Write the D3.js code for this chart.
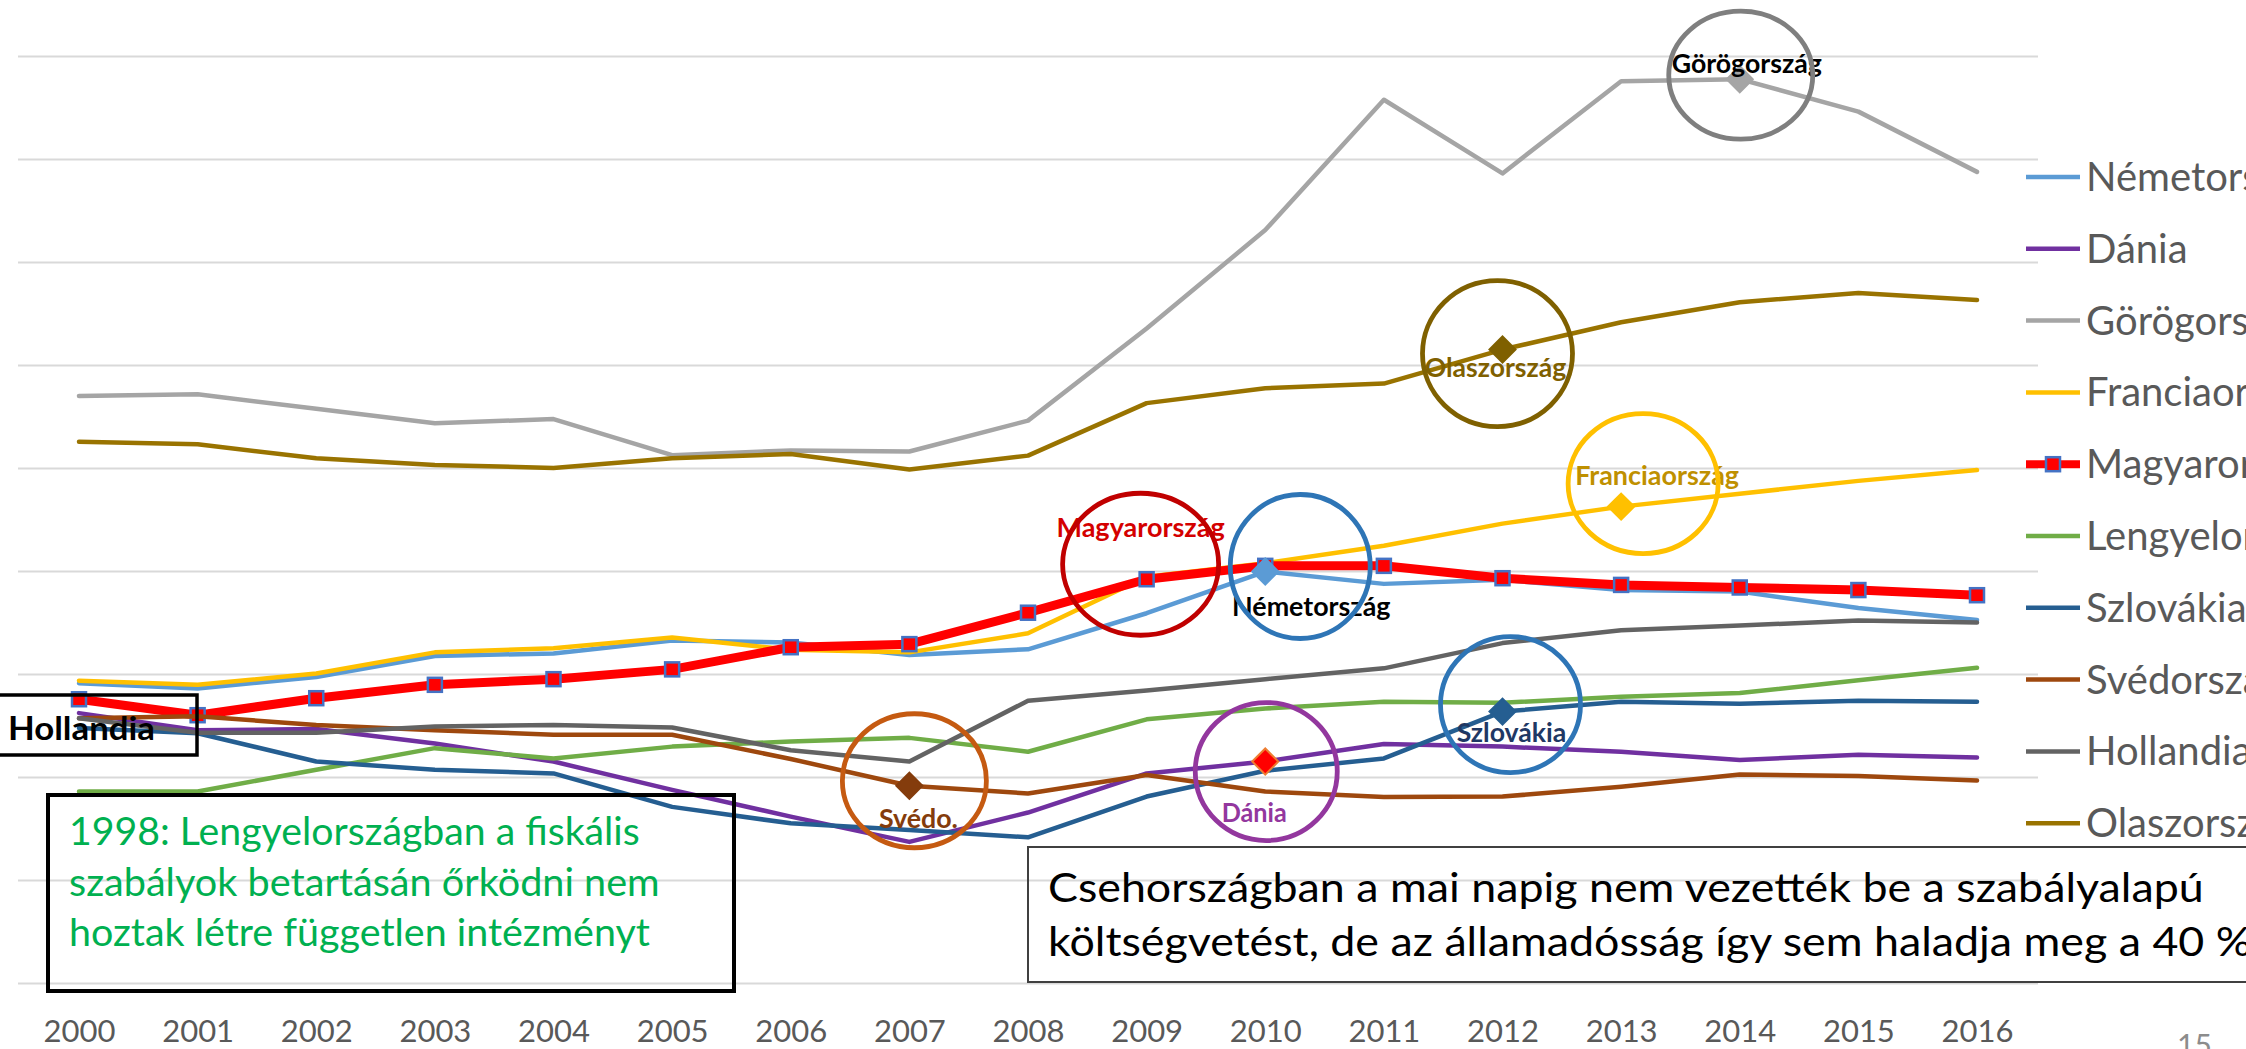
<!DOCTYPE html>
<html lang="hu">
<head>
<meta charset="UTF-8">
<title>Államadósság 2000-2016</title>
<style>
  html, body { margin: 0; padding: 0; background: #fff; }
  svg { display: block; font-family: Lato, "Open Sans", sans-serif; }
  .grid line { stroke: #d9d9d9; stroke-width: 2px; }
  .grid .domain, .xaxis .domain { display: none; }
  .xaxis text { fill: #595959; font-size: 31px; font-family: Lato, sans-serif; }
  .series { fill: none; stroke-linejoin: round; stroke-linecap: round; }
  .legend text { font-size: 40px; fill: #595959; }
</style>
</head>
<body>
<svg id="chart" width="2246" height="1049"></svg>
<script src="https://d3js.org/d3.v7.min.js"></script>
<script>
// years on the x axis
const years = d3.range(2000, 2017);

// debt values, one array per country
const nemetorszag   = [58.2, 57.2, 59.4, 63.5, 64.0, 66.5, 66.1, 63.7, 64.8, 71.8, 79.9, 77.5, 78.3, 76.3, 76.0, 72.8, 70.5];
const dania         = [52.4, 49.1, 49.3, 46.5, 43.0, 37.5, 32.3, 27.4, 33.1, 40.7, 43.0, 46.4, 45.9, 44.9, 43.3, 44.3, 43.8];
const gorogorszag   = [114.0, 114.3, 111.5, 108.7, 109.5, 102.5, 103.4, 103.2, 109.2, 127.1, 146.2, 171.5, 157.2, 175.1, 175.5, 169.2, 157.5];
const franciaorszag = [58.7, 57.9, 60.1, 64.2, 65.0, 67.1, 64.7, 64.2, 67.9, 78.9, 81.5, 84.9, 89.2, 92.5, 95.0, 97.5, 99.6];
const magyarorszag  = [55.1, 52.0, 55.3, 57.9, 59.0, 60.9, 65.2, 65.8, 71.9, 78.4, 81.0, 81.0, 78.6, 77.3, 76.8, 76.3, 75.3];
const lengyelorszag = [37.2, 37.2, 41.4, 45.6, 43.6, 45.9, 46.9, 47.6, 44.9, 51.2, 53.3, 54.6, 54.4, 55.6, 56.3, 58.8, 61.2];
const szlovakia     = [49.5, 48.5, 43.0, 41.4, 40.7, 34.2, 31.0, 29.7, 28.3, 36.2, 41.2, 43.6, 52.7, 54.6, 54.2, 54.8, 54.6];
const svedorszag    = [51.4, 51.8, 50.1, 49.1, 48.2, 48.2, 43.5, 38.3, 36.8, 40.4, 37.2, 36.1, 36.2, 38.1, 40.5, 40.2, 39.3];
const hollandia     = [51.4, 48.6, 48.6, 49.8, 50.1, 49.6, 45.2, 43.0, 54.8, 56.8, 59.0, 61.1, 66.0, 68.5, 69.4, 70.4, 70.0];
const olaszorszag   = [105.1, 104.6, 101.9, 100.6, 100.0, 101.9, 102.7, 99.7, 102.4, 112.6, 115.5, 116.4, 123.0, 128.3, 132.2, 134.0, 132.6];

// gridline values (no labels shown on the y axis)
const gridValues = d3.range(0, 181, 20);

const series = [
  { name: "Németország",   values: nemetorszag,   color: "#5b9bd5" },
  { name: "Dánia",         values: dania,         color: "#7030a0" },
  { name: "Görögország",   values: gorogorszag,   color: "#a5a5a5" },
  { name: "Franciaország", values: franciaorszag, color: "#ffc000" },
  { name: "Magyarország",  values: magyarorszag,  color: "#ff0000", hu: true },
  { name: "Lengyelország", values: lengyelorszag, color: "#70ad47" },
  { name: "Szlovákia",     values: szlovakia,     color: "#255e91" },
  { name: "Svédország",    values: svedorszag,    color: "#9e480e" },
  { name: "Hollandia",     values: hollandia,     color: "#636363" },
  { name: "Olaszország",   values: olaszorszag,   color: "#997300" }
];

// circled points with their labels
const callouts = [
  { s: "Görögország",   year: 2014, label: "Görögország",   ring: "#7f7f7f", text: "#000000", mark: "#a5a5a5", rx: 72, ry: 64, dx: 1,  dy: -4, lx: 7,   ly: -6, w: 148 },
  { s: "Olaszország",   year: 2012, label: "Olaszország",   ring: "#7f6000", text: "#7f6000", mark: "#7f6000", rx: 75, ry: 73, dx: -5, dy: 4,  lx: -7,  ly: 27, w: 139 },
  { s: "Franciaország", year: 2013, label: "Franciaország", ring: "#ffc000", text: "#bf9000", mark: "#ffc000", rx: 75, ry: 70, dx: 22, dy: -23, lx: 36, ly: -22, w: 161 },
  { s: "Magyarország",  year: 2009, label: "Magyarország",  ring: "#c00000", text: "#d40000", mark: null,      rx: 78, ry: 71, dx: -6, dy: -15, lx: -6, ly: -42, w: 165 },
  { s: "Németország",   year: 2010, label: "Németország",   ring: "#2e75b6", text: "#000000", mark: "#5b9bd5", rx: 70, ry: 72, dx: 35, dy: -5, lx: 46,  ly: 44, w: 156 },
  { s: "Svédország",    year: 2007, label: "Svédo.",        ring: "#c55a11", text: "#843c0c", mark: "#843c0c", rx: 72, ry: 67, dx: 5,  dy: -5, lx: 9,   ly: 42, w: 78 },
  { s: "Dánia",         year: 2010, label: "Dánia",         ring: "#93379e", text: "#93379e", mark: "#ff0000", edge: "#ed7d31", rx: 71, ry: 69, dx: 1, dy: 10, lx: -11, ly: 60, w: 64 },
  { s: "Szlovákia",     year: 2012, label: "Szlovákia",     ring: "#2e75b6", text: "#1f3864", mark: "#255e91", rx: 70, ry: 68, dx: 8,  dy: -7, lx: 9,   ly: 30, w: 107 }
];

const svg = d3.select("#chart");

const x = d3.scalePoint().domain(years).range([79, 1977]);
const y = d3.scaleLinear().domain([0, 180]).range([983, 56]);

// gridlines
svg.append("g")
  .attr("class", "grid")
  .attr("transform", "translate(18,0)")
  .call(d3.axisLeft(y).tickValues(gridValues).tickSize(-2020).tickFormat(""));

// year labels
svg.append("g")
  .attr("class", "xaxis")
  .attr("transform", "translate(0,983)")
  .call(d3.axisBottom(x).tickSize(0).tickPadding(37).tickFormat(d3.format("d")));

// series lines
const line = d3.line().x((d, i) => x(years[i])).y(d => y(d));

series.forEach(s => {
  svg.append("path")
    .datum(s.values)
    .attr("class", "series")
    .attr("d", line)
    .attr("stroke", s.color)
    .attr("stroke-width", s.hu ? 9 : 4.5);

  if (s.hu) {
    svg.append("g").selectAll("rect")
      .data(s.values)
      .join("rect")
      .attr("x", (d, i) => x(years[i]) - 7)
      .attr("y", d => y(d) - 7)
      .attr("width", 14)
      .attr("height", 14)
      .attr("fill", "#ff0000")
      .attr("stroke", "#4472c4")
      .attr("stroke-width", 2.5);
  }
});

const byName = new Map(series.map(s => [s.name, s]));
const diamond = d3.symbol().type(d3.symbolSquare).size(340);

// fits a text line to the width it has in the picture
function fitText(parent, str, px, py, size, width, anchor) {
  const g = parent.append("g").attr("transform", `translate(${px},${py})`);
  const t = g.append("text")
    .attr("font-size", size)
    .attr("text-anchor", anchor)
    .text(str);
  const w = t.node().getComputedTextLength();
  t.attr("transform", `scale(${width / w},1)`);
  return t;
}

// highlighted points, labels and rings
callouts.forEach(c => {
  const s = byName.get(c.s);
  const i = years.indexOf(c.year);
  const px = x(c.year), py = y(s.values[i]);

  if (c.mark) {
    svg.append("path")
      .attr("d", diamond())
      .attr("transform", `translate(${px},${py}) rotate(45)`)
      .attr("fill", c.mark)
      .attr("stroke", c.edge || c.mark)
      .attr("stroke-width", 2);
  }

  fitText(svg, c.label, px + c.lx, py + c.ly, 27, c.w, "middle")
    .attr("font-weight", "bold")
    .attr("fill", c.text);

  svg.append("ellipse")
    .attr("cx", px + c.dx)
    .attr("cy", py + c.dy)
    .attr("rx", c.rx)
    .attr("ry", c.ry)
    .attr("fill", "none")
    .attr("stroke", c.ring)
    .attr("stroke-width", 4.8);
});

// legend (runs off the right edge, as on the slide)
const legend = svg.append("g").attr("class", "legend");
series.forEach((s, i) => {
  const ly = 177 + i * 71.8;
  legend.append("line")
    .attr("x1", 2026).attr("x2", 2080)
    .attr("y1", ly).attr("y2", ly)
    .attr("stroke", s.color)
    .attr("stroke-width", s.hu ? 8 : 4.5);
  if (s.hu) {
    legend.append("rect")
      .attr("x", 2046).attr("y", ly - 7)
      .attr("width", 14).attr("height", 14)
      .attr("fill", "#ff0000")
      .attr("stroke", "#4472c4")
      .attr("stroke-width", 2.5);
  }
  legend.append("text")
    .attr("x", 2086)
    .attr("y", ly + 14)
    .attr("fill", s.hu ? "#ff0000" : "#595959")
    .text(s.name);
});

// "Hollandia" box at the left edge
svg.append("rect")
  .attr("x", -5).attr("y", 695).attr("width", 202).attr("height", 60)
  .attr("fill", "none").attr("stroke", "#000").attr("stroke-width", 3.5);
fitText(svg, "Hollandia", 8, 740, 33, 144, "start").attr("font-weight", "bold");

// Polish note
svg.append("rect")
  .attr("x", 48).attr("y", 795).attr("width", 686).attr("height", 196)
  .attr("fill", "none").attr("stroke", "#000").attr("stroke-width", 4);
const plLines = [
  ["1998: Lengyelországban a fiskális", 571],
  ["szabályok betartásán őrködni nem", 591],
  ["hoztak létre független intézményt", 581]
];
plLines.forEach((l, i) => {
  fitText(svg, l[0], 69, 845 + i * 50.5, 39, l[1], "start").attr("fill", "#00b050");
});

// Czech note
svg.append("rect")
  .attr("x", 1028).attr("y", 847).attr("width", 1240).attr("height", 135)
  .attr("fill", "none").attr("stroke", "#404040").attr("stroke-width", 2);
const cz1 = fitText(svg, "Csehországban a mai napig nem vezették be a szabályalapú", 1048, 902, 40, 1156, "start");
const czScale = 1156 / cz1.node().getComputedTextLength();
svg.append("text")
  .attr("font-size", 40)
  .attr("transform", `translate(1048,956) scale(${czScale},1)`)
  .text("költségvetést, de az államadósság így sem haladja meg a 40 %");

// slide number
svg.append("text")
  .attr("x", 2177).attr("y", 1056)
  .attr("font-size", 30)
  .attr("fill", "#8c8c8c")
  .text("15");
</script>
</body>
</html>
